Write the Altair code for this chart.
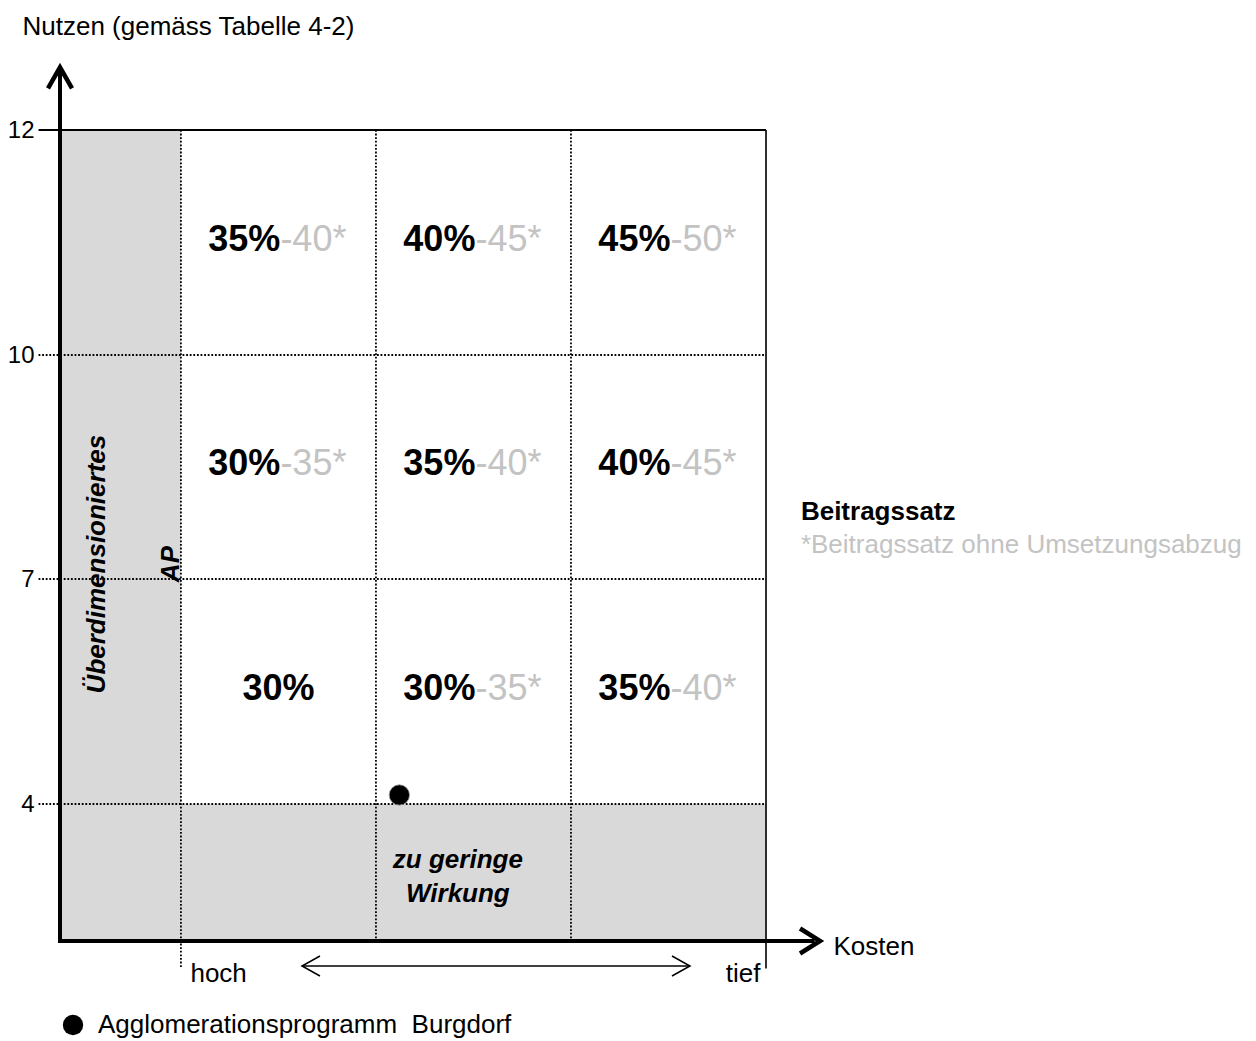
import altair as alt
import pandas as pd

# ---------------- data ----------------
col_centers = [0.5, 1.5, 2.5]            # cost columns (hoch -> tief)
row_ranges = [(10, 12), (7, 10), (4, 7)]  # Nutzen bands, top to bottom
satz = [["35%", "40%", "45%"],
        ["30%", "35%", "40%"],
        ["30%", "30%", "35%"]]
ohne = [["-40*", "-45*", "-50*"],
        ["-35*", "-40*", "-45*"],
        ["", "-35*", "-40*"]]
nutzen_ticks = [4, 7, 10, 12]
cost_ticks = [0, 3]
cost_tick_names = ["hoch", "tief"]
col_bounds = [0, 1, 2, 3]
point_name = "Agglomerationsprogramm\u00a0 Burgdorf"
point_kosten = [1.12]
point_nutzen = [4.12]

# layout constants in data units
X_AXIS = -0.62      # position of the Nutzen axis on the cost scale
Y_AXIS = 2          # bottom of the chart on the Nutzen scale
X_LINE_START = -0.73
TICK_END = 1.6
FONT = "Liberation Sans"
GREY_TXT = "#c3c3c3"
DOT = dict(color="black", strokeWidth=1.8, strokeDash=[1.8, 1.8])

W, H = 706, 811
xs = alt.Scale(domain=[X_AXIS, 3], nice=False, zero=False)
ys = alt.Scale(domain=[2, 4, 7, 10, 12], range=[811, 674, 449, 225, 0], nice=False, zero=False)

xaxis = alt.Axis(
    values=cost_ticks,
    labelExpr="datum.value == 0 ? '%s' : '%s'" % tuple(cost_tick_names),
    labelAlign={"condition": {"test": "datum.value == 0", "value": "left"}, "value": "right"},
    labelOffset={"condition": {"test": "datum.value == 0", "value": 9}, "value": -6},
    labelFontSize=26, labelColor="black", labelFont=FONT, labelPadding=19,
    labelFlush=False, labelOverlap=False,
    ticks=False, tickSize=0, domain=False, grid=False,
    title="Kosten", titleX=773, titleY=5, titleAlign="left", titleBaseline="middle",
    titleFontSize=26, titleFontWeight="normal", titleColor="black", titleFont=FONT,
)
yaxis = alt.Axis(
    values=nutzen_ticks,
    labelFontSize=24, labelColor="black", labelFont=FONT, labelPadding=26,
    labelFlush=False, labelOverlap=False,
    ticks=False, tickSize=0, domain=False, grid=False,
    title="Nutzen (gemäss Tabelle 4-2)", titleAngle=0, titleX=-38, titleY=-96,
    titleAlign="left", titleBaseline="alphabetic",
    titleFontSize=26, titleFontWeight="normal", titleColor="black", titleFont=FONT,
)


def X(f="x"):
    return alt.X(f, type="quantitative", scale=xs, axis=xaxis)


def Y(f="y"):
    return alt.Y(f, type="quantitative", scale=ys, axis=yaxis)


# grey zones
grey = pd.DataFrame([
    {"x": X_AXIS, "x2": 0, "y": Y_AXIS, "y2": 12},
    {"x": 0, "x2": 3, "y": Y_AXIS, "y2": 4},
])
grey_layer = alt.Chart(grey).mark_rect(color="#d9d9d9").encode(
    x=X(), x2="x2", y=Y(), y2="y2")

# dotted grid lines
hl = pd.DataFrame([{"x": X_LINE_START, "x2": 3, "y": v} for v in nutzen_ticks[:-1]])
h_layer = alt.Chart(hl).mark_rule(**DOT).encode(x=X(), x2="x2", y=Y())
vl = pd.DataFrame([{"x": c, "y": 12, "y2": (TICK_END if c == 0 else Y_AXIS)} for c in col_bounds[:-1]])
v_layer = alt.Chart(vl).mark_rule(**DOT).encode(x=X(), y=Y(), y2="y2")

# solid borders
top_border = alt.Chart(pd.DataFrame([{"x": X_LINE_START, "x2": 3, "y": 12}])).mark_rule(
    color="black", strokeWidth=2).encode(x=X(), x2="x2", y=Y())
right_border = alt.Chart(pd.DataFrame([{"x": 3, "y": 12, "y2": TICK_END}])).mark_rule(
    color="black", strokeWidth=1.6).encode(x=X(), y=Y(), y2="y2")

# main axes (thick arrows)
y_arrow = alt.Chart(pd.DataFrame([{"x": X_AXIS, "y": Y_AXIS - 0.03, "y2": 12.53}])).mark_rule(
    color="black", strokeWidth=4).encode(x=X(), y=Y(), y2="y2")
x_arrow = alt.Chart(pd.DataFrame([{"x": X_AXIS - 0.01, "x2": 3.25, "y": Y_AXIS}])).mark_rule(
    color="black", strokeWidth=4).encode(x=X(), x2="x2", y=Y())
y_head = alt.Chart(pd.DataFrame([{"x": X_AXIS, "y": 12.45}])).mark_point(
    shape="M -1 0.75 L 0 -1 L 1 0.75", size=576, filled=False, color="black",
    strokeWidth=4.5, opacity=1, strokeJoin="miter").encode(x=X(), y=Y())
x_head = alt.Chart(pd.DataFrame([{"x": 3.213, "y": Y_AXIS}])).mark_point(
    shape="M -0.6 -1 L 1 0 L -0.6 1", size=625, filled=False, color="black",
    strokeWidth=4.5, opacity=1, strokeJoin="miter").encode(x=X(), y=Y())

# double arrow hoch <-> tief
DA_Y = 1.635
da_line = alt.Chart(pd.DataFrame([{"x": 0.62, "x2": 2.61, "y": DA_Y}])).mark_rule(
    color="black", strokeWidth=1.5).encode(x=X(), x2="x2", y=Y())
da_left = alt.Chart(pd.DataFrame([{"x": 0.672, "y": DA_Y}])).mark_point(
    shape="M 0.8 -1 L -1 0 L 0.8 1", size=400, filled=False, color="black",
    strokeWidth=1.5, opacity=1).encode(x=X(), y=Y())
da_right = alt.Chart(pd.DataFrame([{"x": 2.559, "y": DA_Y}])).mark_point(
    shape="M -0.8 -1 L 1 0 L -0.8 1", size=400, filled=False, color="black",
    strokeWidth=1.5, opacity=1).encode(x=X(), y=Y())

# cell labels
rows = []
for r, (lo, hi) in enumerate(row_ranges):
    for c, cx in enumerate(col_centers):
        rows.append({"x": cx, "xs": cx + 0.01, "y": (lo + hi) / 2,
                     "satz": satz[r][c], "ohne": ohne[r][c],
                     "pair": ohne[r][c] != ""})
cells = pd.DataFrame(rows)
cell_base = alt.Chart(cells)
bold_pair = cell_base.transform_filter("datum.pair").mark_text(
    font=FONT, fontSize=36, fontWeight="bold", color="black", align="right", baseline="middle", dy=-3
).encode(x=X("xs"), y=Y(), text="satz:N")
bold_single = cell_base.transform_filter("!datum.pair").mark_text(
    font=FONT, fontSize=36, fontWeight="bold", color="black", align="center", baseline="middle", dy=-3
).encode(x=X("x"), y=Y(), text="satz:N")
grey_pair = cell_base.transform_filter("datum.pair").mark_text(
    font=FONT, fontSize=36, color=GREY_TXT, align="left", baseline="middle", dy=-3
).encode(x=X("xs"), y=Y(), text="ohne:N")

# zone labels
zone_lab = pd.DataFrame([
    {"x": -0.431, "y": 7.2, "t": "Überdimensioniertes"},
    {"x": -0.051, "y": 7.2, "t": "AP"},
])
zone_layer = alt.Chart(zone_lab).mark_text(
    font=FONT, fontSize=26, fontWeight="bold", fontStyle="italic", color="black",
    angle=270, align="center", baseline="middle").encode(x=X(), y=Y(), text="t:N")
low_lab = alt.Chart(pd.DataFrame([{"x": 1.42, "y": 3.18, "t": ["zu geringe", "Wirkung"]}])).mark_text(
    font=FONT, fontSize=26, fontWeight="bold", fontStyle="italic", color="black",
    align="center", baseline="middle", lineHeight=34).encode(x=X(), y=Y(), text="t")

# Beitragssatz note
note1 = alt.Chart(pd.DataFrame([{"x": 3.179, "y": 7.90, "t": "Beitragssatz"}])).mark_text(
    font=FONT, fontSize=26, fontWeight="bold", color="black", align="left", baseline="middle"
).encode(x=X(), y=Y(), text="t:N")
note2 = alt.Chart(pd.DataFrame([{"x": 3.179, "y": 7.455, "t": "*Beitragssatz ohne Umsetzungsabzug"}])).mark_text(
    font=FONT, fontSize=26, color=GREY_TXT, align="left", baseline="middle"
).encode(x=X(), y=Y(), text="t:N")

# the programme point
pt = pd.DataFrame({"x": point_kosten, "y": point_nutzen, "name": [point_name]})
pt_layer = alt.Chart(pt).mark_circle(size=415, opacity=1, stroke="#9a9a9a", strokeWidth=0.8).encode(
    x=X(), y=Y(),
    color=alt.Color("name:N", scale=alt.Scale(domain=[point_name], range=["black"]),
                    legend=alt.Legend(title=None, orient="none", legendX=0, legendY=882,
                                      symbolSize=415, symbolType="circle", symbolStrokeWidth=0,
                                      labelFontSize=26, labelFont=FONT, labelColor="black",
                                      labelOffset=12, labelLimit=0, padding=0)),
)

chart = alt.layer(
    grey_layer, h_layer, v_layer, top_border, right_border,
    da_line, da_left, da_right,
    bold_pair, bold_single, grey_pair, zone_layer, low_lab, note1, note2,
    pt_layer, y_arrow, x_arrow, y_head, x_head,
).properties(
    width=W, height=H,
    autosize=alt.AutoSizeParams(type="none"),
    padding={"left": 52, "top": 122, "right": 482, "bottom": 100},
).configure_view(stroke=None).configure(font=FONT)

chart.save("out.html", embed_options={"renderer": "svg", "actions": False})
